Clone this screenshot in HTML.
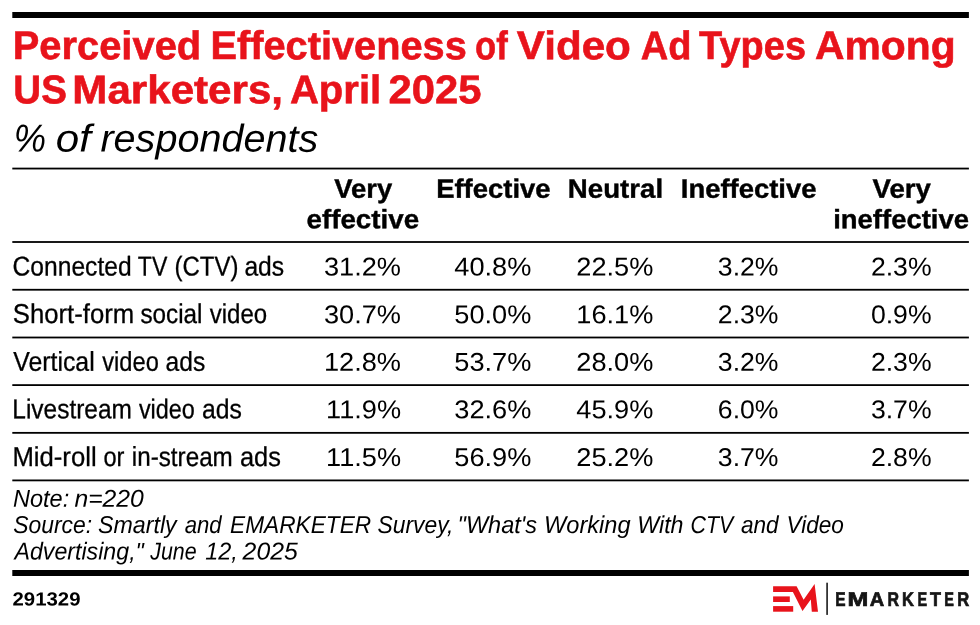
<!DOCTYPE html>
<html lang="en">
<head>
<meta charset="utf-8">
<title>Perceived Effectiveness of Video Ad Types Among US Marketers, April 2025</title>
<style>
html,body{margin:0;padding:0;background:#fff;}
body{width:980px;height:625px;position:relative;overflow:hidden;font-family:"Liberation Sans",sans-serif;color:#000;}
#c{position:absolute;left:0;top:0;width:980px;height:625px;will-change:transform;}
#c svg{position:absolute;left:0;top:0;}
.t{position:absolute;left:0;top:0;white-space:nowrap;line-height:1;margin:0;padding:0;transform-origin:0 0;}
.b{font-weight:700;}
.i{font-style:italic;}
.r{color:#e8131b;}
</style>
</head>
<body>
<div id="c">
<svg width="980" height="625" viewBox="0 0 980 625">
<rect x="12.3" y="12" width="956.6" height="6" fill="#000"/>
<rect x="12.3" y="570" width="956.6" height="6" fill="#000"/>
<rect x="12.3" y="167.65" width="956.6" height="1.8" fill="#000"/>
<rect x="12.3" y="241.10" width="956.6" height="1.8" fill="#000"/>
<rect x="12.3" y="288.85" width="956.6" height="1.8" fill="#000"/>
<rect x="12.3" y="336.60" width="956.6" height="1.8" fill="#000"/>
<rect x="12.3" y="384.20" width="956.6" height="1.8" fill="#000"/>
<rect x="12.3" y="431.95" width="956.6" height="1.8" fill="#000"/>
<rect x="12.3" y="479.50" width="956.6" height="1.8" fill="#000"/>
<path fill="#e8131b" d="M773.1 586.3H796.6L803.6 599.8L814.6 584.1L818 611.7H811.8L810.8 599.6L802.5 610.9L792.9 592H773.1Z"/>
<rect x="773.1" y="596.4" width="16.7" height="5.6" fill="#e8131b"/>
<rect x="773.1" y="606.1" width="20.1" height="5.6" fill="#e8131b"/>
<rect x="826.2" y="582.7" width="1.8" height="32.2" fill="#333"/>
</svg>
<div class="t b r" style="font-size:40.0px;-webkit-text-stroke:0.6px;transform:matrix(0.9970,0.0005,0,1,12.71,25.10);">Perceived</div>
<div class="t b r" style="font-size:40.0px;-webkit-text-stroke:0.6px;transform:matrix(0.9941,0.0005,0,1,210.41,25.09);">Effectiveness</div>
<div class="t b r" style="font-size:40.0px;-webkit-text-stroke:0.6px;transform:matrix(0.8649,0.0005,0,1,475.12,25.14);">of</div>
<div class="t b r" style="font-size:40.0px;-webkit-text-stroke:0.6px;transform:matrix(1.0542,0.0005,0,1,516.80,25.12);">Video</div>
<div class="t b r" style="font-size:40.0px;-webkit-text-stroke:0.6px;transform:matrix(0.9512,0.0005,0,1,640.69,25.14);">Ad</div>
<div class="t b r" style="font-size:40.0px;-webkit-text-stroke:0.6px;transform:matrix(0.9495,0.0005,0,1,699.06,25.12);">Types</div>
<div class="t b r" style="font-size:40.0px;-webkit-text-stroke:0.6px;transform:matrix(1.0208,0.0005,0,1,815.03,25.12);">Among</div>
<div class="t b r" style="font-size:40.0px;-webkit-text-stroke:0.6px;transform:matrix(0.9627,0.0005,0,1,13.37,69.24);">US</div>
<div class="t b r" style="font-size:40.0px;-webkit-text-stroke:0.6px;transform:matrix(1.0525,0.0005,0,1,72.37,69.20);">Marketers,</div>
<div class="t b r" style="font-size:40.0px;-webkit-text-stroke:0.6px;transform:matrix(1.0006,0.0005,0,1,289.95,69.23);">April</div>
<div class="t b r" style="font-size:40.0px;-webkit-text-stroke:0.6px;transform:matrix(1.0453,0.0005,0,1,388.55,69.23);">2025</div>
<div class="t i" style="font-size:38.8px;transform:matrix(0.9367,0.0005,0,1,13.82,119.59);">%</div>
<div class="t i" style="font-size:38.8px;transform:matrix(1.0841,0.0005,0,1,55.74,119.59);">of</div>
<div class="t i" style="font-size:38.8px;transform:matrix(1.0198,0.0005,0,1,100.44,119.55);">respondents</div>
<div class="t b" style="font-size:26.6px;-webkit-text-stroke:0.4px;transform:matrix(1.0311,0.0005,0,1,334.20,175.74);">Very</div>
<div class="t b" style="font-size:26.6px;-webkit-text-stroke:0.4px;transform:matrix(1.0432,0.0005,0,1,306.52,206.22);">effective</div>
<div class="t b" style="font-size:26.6px;-webkit-text-stroke:0.4px;transform:matrix(1.0326,0.0005,0,1,436.15,175.72);">Effective</div>
<div class="t b" style="font-size:26.6px;-webkit-text-stroke:0.4px;transform:matrix(1.0395,0.0005,0,1,567.84,175.73);">Neutral</div>
<div class="t b" style="font-size:26.6px;-webkit-text-stroke:0.4px;transform:matrix(1.0321,0.0005,0,1,680.75,175.72);">Ineffective</div>
<div class="t b" style="font-size:26.6px;-webkit-text-stroke:0.4px;transform:matrix(1.0382,0.0005,0,1,872.60,175.74);">Very</div>
<div class="t b" style="font-size:26.6px;-webkit-text-stroke:0.4px;transform:matrix(1.0326,0.0005,0,1,833.19,206.22);">ineffective</div>
<div class="t" style="font-size:27.2px;-webkit-text-stroke:0.3px;transform:matrix(0.9056,0.0005,0,1,12.57,252.42);">Connected</div>
<div class="t" style="font-size:27.2px;-webkit-text-stroke:0.3px;transform:matrix(0.8496,0.0005,0,1,137.78,252.44);">TV</div>
<div class="t" style="font-size:27.2px;-webkit-text-stroke:0.3px;transform:matrix(0.8806,0.0005,0,1,174.58,252.43);">(CTV)</div>
<div class="t" style="font-size:27.2px;-webkit-text-stroke:0.3px;transform:matrix(0.9071,0.0005,0,1,244.39,252.44);">ads</div>
<div class="t" style="font-size:25.7px;transform:matrix(1.0572,0.0005,0,1,323.98,254.48);">31.2%</div>
<div class="t" style="font-size:25.7px;transform:matrix(1.0572,0.0005,0,1,454.28,254.48);">40.8%</div>
<div class="t" style="font-size:25.7px;transform:matrix(1.0572,0.0005,0,1,576.33,254.48);">22.5%</div>
<div class="t" style="font-size:25.7px;transform:matrix(1.0359,0.0005,0,1,717.83,254.49);">3.2%</div>
<div class="t" style="font-size:25.7px;transform:matrix(1.0359,0.0005,0,1,870.93,254.49);">2.3%</div>
<div class="t" style="font-size:27.2px;-webkit-text-stroke:0.3px;transform:matrix(0.9455,0.0005,0,1,12.75,300.07);">Short-form</div>
<div class="t" style="font-size:27.2px;-webkit-text-stroke:0.3px;transform:matrix(0.8922,0.0005,0,1,140.45,300.08);">social</div>
<div class="t" style="font-size:27.2px;-webkit-text-stroke:0.3px;transform:matrix(0.8828,0.0005,0,1,209.70,300.08);">video</div>
<div class="t" style="font-size:25.7px;transform:matrix(1.0572,0.0005,0,1,323.98,302.13);">30.7%</div>
<div class="t" style="font-size:25.7px;transform:matrix(1.0572,0.0005,0,1,454.28,302.13);">50.0%</div>
<div class="t" style="font-size:25.7px;transform:matrix(1.0572,0.0005,0,1,576.33,302.13);">16.1%</div>
<div class="t" style="font-size:25.7px;transform:matrix(1.0359,0.0005,0,1,717.83,302.14);">2.3%</div>
<div class="t" style="font-size:25.7px;transform:matrix(1.0359,0.0005,0,1,870.93,302.14);">0.9%</div>
<div class="t" style="font-size:27.2px;-webkit-text-stroke:0.3px;transform:matrix(0.9143,0.0005,0,1,13.20,347.68);">Vertical</div>
<div class="t" style="font-size:27.2px;-webkit-text-stroke:0.3px;transform:matrix(0.8688,0.0005,0,1,102.30,347.68);">video</div>
<div class="t" style="font-size:27.2px;-webkit-text-stroke:0.3px;transform:matrix(0.9048,0.0005,0,1,165.60,347.69);">ads</div>
<div class="t" style="font-size:25.7px;transform:matrix(1.0572,0.0005,0,1,323.98,349.73);">12.8%</div>
<div class="t" style="font-size:25.7px;transform:matrix(1.0572,0.0005,0,1,454.28,349.73);">53.7%</div>
<div class="t" style="font-size:25.7px;transform:matrix(1.0572,0.0005,0,1,576.33,349.73);">28.0%</div>
<div class="t" style="font-size:25.7px;transform:matrix(1.0359,0.0005,0,1,717.83,349.74);">3.2%</div>
<div class="t" style="font-size:25.7px;transform:matrix(1.0359,0.0005,0,1,870.93,349.74);">2.3%</div>
<div class="t" style="font-size:27.2px;-webkit-text-stroke:0.3px;transform:matrix(0.8998,0.0005,0,1,12.30,395.27);">Livestream</div>
<div class="t" style="font-size:27.2px;-webkit-text-stroke:0.3px;transform:matrix(0.8609,0.0005,0,1,138.90,395.28);">video</div>
<div class="t" style="font-size:27.2px;-webkit-text-stroke:0.3px;transform:matrix(0.9095,0.0005,0,1,201.89,395.29);">ads</div>
<div class="t" style="font-size:25.7px;transform:matrix(1.0572,0.0005,0,1,326.09,397.33);">11.9%</div>
<div class="t" style="font-size:25.7px;transform:matrix(1.0572,0.0005,0,1,454.28,397.33);">32.6%</div>
<div class="t" style="font-size:25.7px;transform:matrix(1.0572,0.0005,0,1,576.33,397.33);">45.9%</div>
<div class="t" style="font-size:25.7px;transform:matrix(1.0359,0.0005,0,1,717.83,397.34);">6.0%</div>
<div class="t" style="font-size:25.7px;transform:matrix(1.0359,0.0005,0,1,870.93,397.34);">3.7%</div>
<div class="t" style="font-size:27.2px;-webkit-text-stroke:0.3px;transform:matrix(0.9450,0.0005,0,1,12.41,442.88);">Mid-roll</div>
<div class="t" style="font-size:27.2px;-webkit-text-stroke:0.3px;transform:matrix(0.8696,0.0005,0,1,103.43,442.89);">or</div>
<div class="t" style="font-size:27.2px;-webkit-text-stroke:0.3px;transform:matrix(0.8909,0.0005,0,1,131.84,442.87);">in-stream</div>
<div class="t" style="font-size:27.2px;-webkit-text-stroke:0.3px;transform:matrix(0.9333,0.0005,0,1,239.97,442.89);">ads</div>
<div class="t" style="font-size:25.7px;transform:matrix(1.0572,0.0005,0,1,326.09,444.93);">11.5%</div>
<div class="t" style="font-size:25.7px;transform:matrix(1.0572,0.0005,0,1,454.28,444.93);">56.9%</div>
<div class="t" style="font-size:25.7px;transform:matrix(1.0572,0.0005,0,1,576.33,444.93);">25.2%</div>
<div class="t" style="font-size:25.7px;transform:matrix(1.0359,0.0005,0,1,717.83,444.94);">3.7%</div>
<div class="t" style="font-size:25.7px;transform:matrix(1.0359,0.0005,0,1,870.93,444.94);">2.8%</div>
<div class="t i" style="font-size:24.4px;transform:matrix(0.9646,0.0005,0,1,12.98,486.64);">Note:</div>
<div class="t i" style="font-size:24.4px;transform:matrix(1.0140,0.0005,0,1,74.39,486.63);">n=220</div>
<div class="t i" style="font-size:24.4px;transform:matrix(0.9386,0.0005,0,1,13.20,512.98);">Source:</div>
<div class="t i" style="font-size:24.4px;transform:matrix(0.9506,0.0005,0,1,98.09,512.98);">Smartly</div>
<div class="t i" style="font-size:24.4px;transform:matrix(0.9080,0.0005,0,1,184.65,512.99);">and</div>
<div class="t i" style="font-size:24.4px;transform:matrix(0.9298,0.0005,0,1,230.10,512.96);">EMARKETER</div>
<div class="t i" style="font-size:24.4px;transform:matrix(0.9372,0.0005,0,1,377.50,512.98);">Survey,</div>
<div class="t i" style="font-size:24.4px;transform:matrix(0.9643,0.0005,0,1,457.53,512.98);">"What's</div>
<div class="t i" style="font-size:24.4px;transform:matrix(0.9667,0.0005,0,1,544.03,512.98);">Working</div>
<div class="t i" style="font-size:24.4px;transform:matrix(0.9525,0.0005,0,1,637.26,512.99);">With</div>
<div class="t i" style="font-size:24.4px;transform:matrix(0.8751,0.0005,0,1,690.51,512.99);">CTV</div>
<div class="t i" style="font-size:24.4px;transform:matrix(0.9276,0.0005,0,1,740.94,512.99);">and</div>
<div class="t i" style="font-size:24.4px;transform:matrix(0.9271,0.0005,0,1,786.51,512.98);">Video</div>
<div class="t i" style="font-size:24.4px;transform:matrix(0.9507,0.0005,0,1,14.45,539.57);">Advertising,"</div>
<div class="t i" style="font-size:24.4px;transform:matrix(0.8769,0.0005,0,1,150.20,539.59);">June</div>
<div class="t i" style="font-size:24.4px;transform:matrix(0.9620,0.0005,0,1,205.18,539.59);">12,</div>
<div class="t i" style="font-size:24.4px;transform:matrix(1.0157,0.0005,0,1,242.60,539.59);">2025</div>
<div class="t b" style="font-size:19.0px;transform:matrix(1.0726,0.0005,0,1,12.50,589.53);">291329</div>
<div class="t b" style="font-size:19.8px;-webkit-text-stroke:0.7px;transform:matrix(0.7830,0.0005,0,1,835.22,589.90);color:#151515;">E</div>
<div class="t b" style="font-size:19.8px;-webkit-text-stroke:0.7px;transform:matrix(1.2621,0.0005,0,1,847.54,589.90);color:#151515;">M</div>
<div class="t b" style="font-size:19.8px;-webkit-text-stroke:0.7px;transform:matrix(1.0105,0.0005,0,1,869.80,589.90);color:#151515;">A</div>
<div class="t b" style="font-size:19.8px;-webkit-text-stroke:0.7px;transform:matrix(0.8075,0.0005,0,1,887.39,589.90);color:#151515;">R</div>
<div class="t b" style="font-size:19.8px;-webkit-text-stroke:0.7px;transform:matrix(0.8364,0.0005,0,1,901.96,589.90);color:#151515;">K</div>
<div class="t b" style="font-size:19.8px;-webkit-text-stroke:0.7px;transform:matrix(0.7319,0.0005,0,1,917.47,589.90);color:#151515;">E</div>
<div class="t b" style="font-size:19.8px;-webkit-text-stroke:0.7px;transform:matrix(0.9040,0.0005,0,1,930.03,589.90);color:#151515;">T</div>
<div class="t b" style="font-size:19.8px;-webkit-text-stroke:0.7px;transform:matrix(0.7319,0.0005,0,1,944.27,589.90);color:#151515;">E</div>
<div class="t b" style="font-size:19.8px;-webkit-text-stroke:0.7px;transform:matrix(0.8377,0.0005,0,1,957.16,589.90);color:#151515;">R</div>
</div>
</body>
</html>
